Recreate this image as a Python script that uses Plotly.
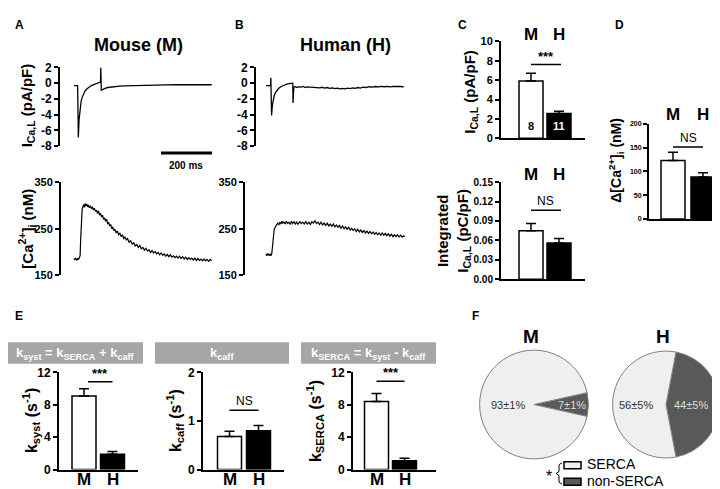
import plotly.graph_objects as go

W, H = 720, 489
def fx(px): return px / W
def fy(py): return 1 - py / H
MS_PER_PX = 200 / 51
FONT = "Liberation Sans, Arial, sans-serif"

# ---------------- data ----------------
groups = ["M", "H"]

# Panel A/B: current traces (ms, pA/pF)
t_i_mouse = [0, 12, 14, 15, 16, 17, 18, 20, 22, 25, 28, 32, 37, 43, 50, 58, 68, 80, 92, 104,
             105, 106, 107, 110, 115, 122, 132, 145, 160, 180, 200, 240, 280, 320, 360, 400,
             440, 480, 520, 540]
i_mouse = [-0.3, -0.3, -0.3, -2.0, -5.5, -6.9, -6.0, -4.6, -3.7, -2.9, -2.3, -1.8, -1.4, -1.0,
           -0.75, -0.5, -0.3, -0.15, 0.0, 0.15, 2.0, 0.3, -0.9, -0.85, -0.75, -0.65, -0.55,
           -0.48, -0.42, -0.38, -0.35, -0.3, -0.28, -0.25, -0.22, -0.2, -0.2, -0.18, -0.2, -0.2]

t_i_human = [0, 6, 12, 18, 19, 20, 21, 22, 23, 25, 28, 32, 37, 43, 50, 58, 66, 75, 85, 95, 105,
             106, 107, 109, 115, 122, 130, 138, 146, 154, 162, 170, 180, 190, 200, 210, 220,
             230, 240, 250, 260, 270, 280, 290, 300, 310, 320, 330, 340, 350, 360, 370, 380,
             392, 404, 416, 428, 440, 452, 464, 476, 488, 500, 512, 524, 540]
i_human = [-0.3, -0.3, -0.35, -0.3, 0.7, -0.5, -2.5, -4.1, -3.6, -2.8, -2.1, -1.6, -1.2, -0.9,
           -0.65, -0.45, -0.3, -0.2, -0.1, -0.05, 0.0, -2.5, -0.8, -0.5, -0.45, -0.55, -0.45,
           -0.5, -0.42, -0.55, -0.48, -0.5, -0.45, -0.55, -0.5, -0.6, -0.52, -0.62, -0.55,
           -0.65, -0.6, -0.7, -0.62, -0.72, -0.65, -0.72, -0.62, -0.7, -0.6, -0.66, -0.55,
           -0.62, -0.5, -0.55, -0.45, -0.5, -0.42, -0.48, -0.4, -0.45, -0.4, -0.46, -0.4,
           -0.45, -0.42, -0.45]

# Panel A/B: [Ca2+]i transients (ms, nM)
t_ca_mouse = [0, 3, 6, 9, 12, 15, 18, 21, 24, 26, 28, 30, 32, 35, 38, 41, 44, 47, 50, 53, 56,
              60, 64, 68, 72, 76, 80, 84, 88, 92, 96, 100, 104, 108, 112, 116, 120, 124, 128,
              132, 136, 140, 144, 148, 152, 156, 160, 165, 170, 175, 180, 185, 190, 195, 200,
              205, 210, 216, 222, 228, 234, 240, 246, 252, 258, 264, 270, 276, 282, 288, 294,
              300, 306, 312, 318, 324, 330, 336, 342, 348, 354, 360, 366, 372, 378, 384, 390,
              396, 402, 408, 414, 420, 426, 432, 438, 444, 450, 456, 462, 468, 474, 480, 486,
              492, 498, 504, 510, 516, 522, 528, 534, 540]
ca_mouse = [186, 183, 187, 185, 182, 187, 184, 188, 192, 225, 262, 283, 292, 297, 302, 296, 304,
            299, 303, 297, 301, 295, 299, 293, 297, 290, 294, 287, 290, 283, 288, 279, 283, 275,
            279, 270, 273, 266, 270, 261, 263, 256, 259, 250, 254, 246, 249, 241, 245, 237, 240,
            233, 237, 229, 232, 226, 229, 221, 224, 217, 220, 213, 216, 210, 214, 207, 210, 204,
            208, 202, 205, 199, 203, 198, 201, 196, 199, 194, 198, 193, 196, 191, 195, 190, 194,
            189, 192, 188, 191, 187, 191, 186, 190, 185, 189, 184, 188, 184, 187, 183, 187, 182,
            186, 182, 185, 181, 185, 181, 184, 180, 184, 181]

t_ca_human = [0, 3, 6, 9, 12, 15, 18, 21, 23, 25, 27, 29, 32, 35, 38, 42, 46, 50, 54, 58, 62, 66,
              70, 75, 80, 85, 90, 95, 100, 105, 110, 115, 120, 126, 132, 138, 144, 150, 156, 162,
              168, 174, 180, 186, 192, 198, 204, 210, 216, 222, 228, 234, 240, 246, 252, 258,
              264, 270, 276, 282, 288, 294, 300, 306, 312, 318, 324, 330, 336, 342, 348, 354,
              360, 366, 372, 378, 384, 390, 396, 402, 408, 414, 420, 426, 432, 438, 444, 450,
              456, 462, 468, 474, 480, 486, 492, 498, 504, 510, 516, 522, 528, 534, 540, 545]
ca_human = [196, 192, 197, 193, 196, 192, 195, 193, 198, 212, 228, 240, 248, 252, 256, 259, 262,
            258, 264, 260, 266, 261, 265, 260, 266, 261, 264, 259, 266, 261, 265, 260, 264, 259,
            266, 261, 264, 260, 265, 260, 264, 259, 265, 262, 267, 261, 264, 259, 264, 258, 262,
            257, 262, 256, 260, 255, 260, 254, 258, 253, 257, 251, 256, 250, 254, 249, 253, 247,
            251, 246, 250, 244, 249, 243, 247, 242, 246, 241, 245, 240, 244, 239, 243, 238, 242,
            237, 241, 236, 241, 236, 240, 235, 239, 234, 238, 233, 237, 233, 237, 232, 236, 232,
            235, 233]
scale_bar_ms = 200

# Panel C
ical_mean = [5.9, 2.55]
ical_err = [0.8, 0.25]
n_cells = [8, 11]
qcal_mean = [0.075, 0.056]
qcal_err = [0.011, 0.007]
# Panel D
dca_mean = [123, 88]
dca_err = [17, 9]
# Panel E
ksyst_mean = [9.1, 1.9]
ksyst_err = [0.9, 0.35]
kcaff_mean = [0.68, 0.80]
kcaff_err = [0.11, 0.11]
kserca_mean = [8.4, 1.1]
kserca_err = [1.0, 0.3]
# Panel F
pie_labels = ["non-SERCA", "SERCA"]
pie_M = [7, 93]
pie_M_text = ["7±1%", "93±1%"]
pie_H = [44, 56]
pie_H_text = ["44±5%", "56±5%"]

# tick labels
ticks_cur = [-8, -6, -4, -2, 0, 2]
ticks_ca = [150, 250, 350]
ticks_ical = [0, 2, 4, 6, 8, 10]
ticks_qcal = [0, 0.03, 0.06, 0.09, 0.12, 0.15]
ticks_qcal_text = ["0.00", "0.03", "0.06", "0.09", "0.12", "0.15"]
ticks_dca = [0, 50, 100, 150, 200]
ticks_k12 = [0, 4, 8, 12]
ticks_k2 = [0, 1, 2]

# ---------------- figure ----------------
fig = go.Figure()
layout = dict(width=W, height=H, margin=dict(l=0, r=0, t=0, b=0),
              paper_bgcolor="white", plot_bgcolor="rgba(0,0,0,0)", showlegend=False,
              font=dict(family=FONT, color="black"))
annotations = []
shapes = []


def names(k):
    if k == 1:
        return "x", "y", "xaxis", "yaxis"
    return f"x{k}", f"y{k}", f"xaxis{k}", f"yaxis{k}"


def ann(text, px, py, size, bold=True, color="black", angle=0, xanchor="center",
        yanchor="middle"):
    annotations.append(dict(
        text=f"<b>{text}</b>" if bold else text, x=fx(px), y=fy(py),
        xref="paper", yref="paper", showarrow=False, textangle=angle,
        xanchor=xanchor, yanchor=yanchor,
        font=dict(family=FONT, size=size, color=color)))


def yax(ydom, yrange, tickvals, ticktext, size, xref):
    return dict(domain=[fy(ydom[1]), fy(ydom[0])], range=yrange, showline=True, linewidth=2,
                linecolor="black", ticks="outside", ticklen=4, tickwidth=2, tickcolor="black",
                tickvals=tickvals, ticktext=ticktext,
                tickfont=dict(family=FONT, size=size, weight="bold", color="black"),
                showgrid=False, zeroline=False, anchor=xref)


def trace_panel(k, xdom, ydom, t0px, yrange, tickvals, ticktext, tsize, t, v, lw):
    xr, yr, xa, ya = names(k)
    layout[xa] = dict(domain=[fx(xdom[0]), fx(xdom[1])],
                      range=[(xdom[0] - t0px) * MS_PER_PX, (xdom[1] - t0px) * MS_PER_PX],
                      visible=False, anchor=yr)
    layout[ya] = yax(ydom, yrange, tickvals, ticktext, tsize, xr)
    fig.add_trace(go.Scatter(x=t, y=v, mode="lines", line=dict(color="black", width=lw),
                             xaxis=xr, yaxis=yr, hoverinfo="skip"))
    return xr, yr


def group_labels(xr, py, size):
    for i, g in enumerate(groups):
        annotations.append(dict(text=f"<b>{g}</b>", x=i, y=fy(py), xref=xr, yref="paper",
                                showarrow=False, xanchor="center", yanchor="middle",
                                font=dict(family=FONT, size=size, color="black")))


def bar_panel(k, xdom, ydom, centers, yrange, tickvals, ticktext, tsize, means, errs,
              xlabel_py=None):
    xr, yr, xa, ya = names(k)
    span = centers[1] - centers[0]
    layout[xa] = dict(domain=[fx(xdom[0]), fx(xdom[1])],
                      range=[(xdom[0] - centers[0]) / span, (xdom[1] - centers[0]) / span],
                      showline=True, linewidth=2, linecolor="black", ticks="",
                      showgrid=False, zeroline=False, anchor=yr, showticklabels=False)
    layout[ya] = yax(ydom, yrange, tickvals, ticktext, tsize, xr)
    fig.add_trace(go.Bar(x=[0, 1], y=means, width=24 / span,
                         marker=dict(color=["white", "black"],
                                     line=dict(color="black", width=1.5)),
                         error_y=dict(type="data", array=errs, arrayminus=[0, 0],
                                      symmetric=False, color="black", thickness=1.5, width=5),
                         xaxis=xr, yaxis=yr, hoverinfo="skip"))
    if xlabel_py is not None:
        group_labels(xr, xlabel_py, 17)
    return xr, yr


def sig(xr, yr, x0, x1, yline, text, star):
    shapes.append(dict(type="line", xref=xr, yref=yr, x0=x0, x1=x1, y0=yline, y1=yline,
                       line=dict(color="black", width=1.5)))
    annotations.append(dict(text=f"<b>{text}</b>" if star else text, x=(x0 + x1) / 2, y=yline,
                            xref=xr, yref=yr, showarrow=False, xanchor="center",
                            yanchor="bottom", yshift=-1 if star else 0,
                            font=dict(family=FONT, size=13 if star else 12, color="black")))


# ---- Panels A & B ----
cur_txt = [str(v) for v in ticks_cur]
xA1, yA1 = trace_panel(1, (52, 210), (54, 135), 66, [-8, 2], ticks_cur, cur_txt, 12,
                       t_i_mouse, i_mouse, 1.3)
trace_panel(2, (248, 400), (54, 135), 258, [-8, 2], ticks_cur, cur_txt, 12,
            t_i_human, i_human, 1.3)
trace_panel(3, (53, 210), (172, 268), 66, [150, 350], ticks_ca, [str(v) for v in ticks_ca], 11,
            t_ca_mouse, ca_mouse, 1.2)
trace_panel(4, (237, 400), (172, 268), 258, [150, 350], ticks_ca, [str(v) for v in ticks_ca], 11,
            t_ca_human, ca_human, 1.2)

# scale bar (200 ms) in mouse time coordinates
sb_end = (204 - 66) * MS_PER_PX
shapes.append(dict(type="line", xref=xA1, yref="paper", x0=sb_end - scale_bar_ms, x1=sb_end,
                   y0=fy(142), y1=fy(142), line=dict(color="black", width=3)))
ann(f"{scale_bar_ms} ms", 178, 155, 10)

ann("A", 11, 10, 12)
ann("B", 231, 10, 12)
ann("Mouse (M)", 130, 31, 18)
ann("Human (H)", 337, 31, 18)
ann("I<sub>Ca,L</sub> (pA/pF)", 19, 93, 15, angle=-90)
ann("[Ca<sup>2+</sup>]<sub>i</sub> (nM)", 19, 220, 15, angle=-90)

# ---- Panel C ----
xC1, yC1 = bar_panel(5, (493, 577), (27, 127), (523, 551), [0, 10], ticks_ical,
                     [str(v) for v in ticks_ical], 11, ical_mean, ical_err)
group_labels(xC1, 20, 17)
sig(xC1, yC1, 0, 1.07, 7.6, "***", True)
for i, n in enumerate(n_cells):
    annotations.append(dict(text=f"<b>{n}</b>", x=i, y=1.3, xref=xC1, yref=yC1,
                            showarrow=False, xanchor="center", yanchor="middle",
                            font=dict(family=FONT, size=11,
                                      color="black" if i == 0 else "white")))
ann("C", 454, 10, 12)
ann("I<sub>Ca,L</sub> (pA/pF)", 463, 79, 15, angle=-90)

xC2, yC2 = bar_panel(6, (493, 577), (172, 272), (523, 551), [0, 0.15], ticks_qcal,
                     ticks_qcal_text, 10, qcal_mean, qcal_err)
group_labels(xC2, 164, 17)
sig(xC2, yC2, 0, 1.07, 0.1065, "NS", False)
ann("Integrated<br>I<sub>Ca,L</sub> (pC/pF)", 446, 222, 15, angle=-90)

# ---- Panel D ----
xD, yD = bar_panel(7, (641, 719), (112, 210), (665, 695), [0, 200], ticks_dca,
                   [str(v) for v in ticks_dca], 7, dca_mean, dca_err)
group_labels(xD, 102, 17)
sig(xD, yD, 0, 1, 151, "NS", False)
ann("D", 611, 10, 12)
ann("Δ[Ca<sup>2+</sup>]<sub>i</sub> (nM)", 608, 150, 14, angle=-90)

# ---- Panel E ----
ann("E", 11, 310, 12)
headers = [((0, 135), "k<sub>syst</sub> = k<sub>SERCA</sub> + k<sub>caff</sub>"),
           ((147, 281), "k<sub>caff</sub>"),
           ((293, 428), "k<sub>SERCA</sub> = k<sub>syst</sub> - k<sub>caff</sub>")]
for (x0, x1), txt in headers:
    shapes.append(dict(type="rect", xref="paper", yref="paper", x0=fx(x0), x1=fx(x1),
                       y0=fy(359), y1=fy(337), fillcolor="#a6a6a6", line=dict(width=0),
                       layer="below"))
    ann(txt, (x0 + x1) / 2, 348, 13, color="white")

xE1, yE1 = bar_panel(8, (51, 130), (368, 468), (76, 104.5), [0, 12], ticks_k12,
                     [str(v) for v in ticks_k12], 12, ksyst_mean, ksyst_err, xlabel_py=478)
sig(xE1, yE1, 0.14, 1.0, 10.84, "***", True)
ann("k<sub>syst</sub> (s<sup>-1</sup>)", 23, 418, 16, angle=-90)

xE2, yE2 = bar_panel(9, (195, 276), (368, 468), (221.5, 250.5), [0, 2], ticks_k2,
                     [str(v) for v in ticks_k2], 12, kcaff_mean, kcaff_err, xlabel_py=478)
sig(xE2, yE2, 0, 1, 1.22, "NS", False)
ann("k<sub>caff</sub> (s<sup>-1</sup>)", 167, 418, 16, angle=-90)

xE3, yE3 = bar_panel(10, (345, 428), (368, 468), (368.5, 396.5), [0, 12], ticks_k12,
                     [str(v) for v in ticks_k12], 12, kserca_mean, kserca_err, xlabel_py=478)
sig(xE3, yE3, 0, 1, 10.9, "***", True)
ann("k<sub>SERCA</sub> (s<sup>-1</sup>)", 307, 418, 16, angle=-90)

# ---- Panel F ----
ann("F", 467, 310, 12)
pie_colors = ["#595959", "#efefef"]
for vals, dom in [(pie_M, (470, 582, 345, 457)), (pie_H, (603, 713, 346, 456))]:
    fig.add_trace(go.Pie(values=vals, labels=pie_labels, sort=False, direction="clockwise",
                         rotation=90 - 3.6 * vals[0] / 2, textinfo="none", hoverinfo="skip",
                         marker=dict(colors=pie_colors, line=dict(color="#7f7f7f", width=1)),
                         domain=dict(x=[fx(dom[0]), fx(dom[1])], y=[fy(dom[3]), fy(dom[2])])))
ann("M", 523, 331, 19)
ann("H", 655, 331, 19)
ann(pie_M_text[1], 500, 401, 11, bold=False, color="#333333")
ann(pie_M_text[0], 564, 401, 11, bold=False, color="#dddddd")
ann(pie_H_text[1], 628, 401, 11, bold=False, color="#333333")
ann(pie_H_text[0], 683, 401, 11, bold=False, color="#dddddd")

# legend
for (py0, py1), col, lab, ty in [((460, 467), pie_colors[1], pie_labels[1], 462.5),
                                 ((477, 484), pie_colors[0], pie_labels[0], 479.5)]:
    shapes.append(dict(type="rect", xref="paper", yref="paper", x0=fx(556), x1=fx(573),
                       y0=fy(py1), y1=fy(py0), fillcolor=col,
                       line=dict(color="black", width=1.5)))
    ann(lab, 577, ty, 14, bold=False, xanchor="left")
shapes.append(dict(type="path", xref="paper", yref="paper",
                   path=f"M {fx(554)} {fy(461)} L {fx(551)} {fy(463)} L {fx(551)} {fy(470)} "
                        f"L {fx(548)} {fy(472)} L {fx(551)} {fy(474)} L {fx(551)} {fy(481)} "
                        f"L {fx(554)} {fy(483)}",
                   line=dict(color="black", width=1)))
ann("*", 541, 475, 16, bold=False)

layout["annotations"] = annotations
layout["shapes"] = shapes
fig.update_layout(**layout)
fig.write_html("out.html")
